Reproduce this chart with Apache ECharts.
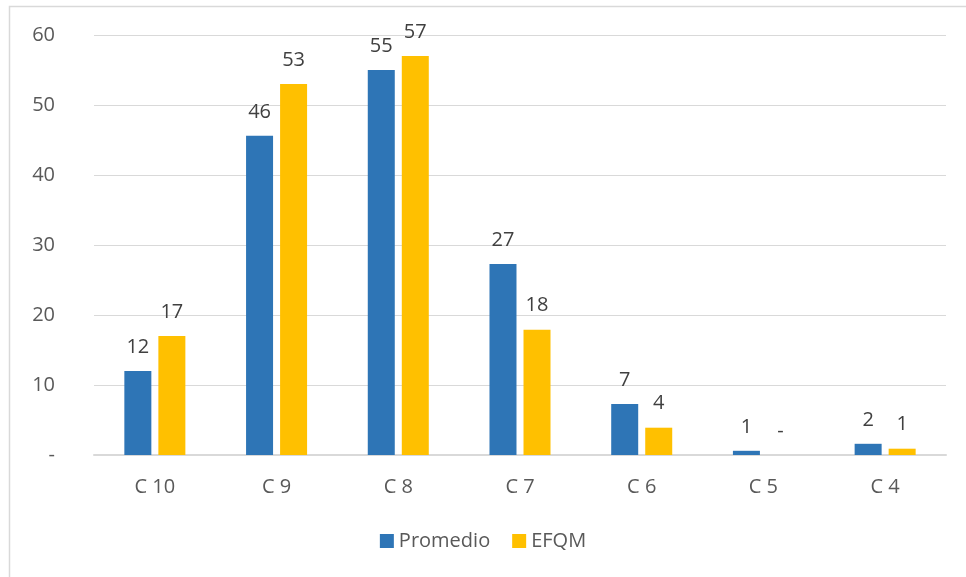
<!DOCTYPE html>
<html>
<head>
<meta charset="utf-8">
<script src="https://cdn.jsdelivr.net/npm/echarts@6/dist/echarts.min.js"></script>
<style>
  html, body { margin: 0; padding: 0; background: #fff; }
  #chart { width: 966px; height: 577px; }
</style>
</head>
<body>
<div id="chart"></div>
<script>
// Categories and series values
const categories = ['C 10', 'C 9', 'C 8', 'C 7', 'C 6', 'C 5', 'C 4'];
const promedio = [12.0, 45.6, 55.0, 27.3, 7.3, 0.6, 1.6];
const efqm = [17.0, 53.0, 57.0, 17.9, 3.9, 0, 0.9];
const yTicks = [0, 10, 20, 30, 40, 50, 60];

const FONT = '"Open Sans", "Noto Sans", sans-serif';
const TEXT = '#595959';

function fmtLabel(v) {
  const n = Math.round(v);
  return n === 0 ? '-' : String(n);
}

const chart = echarts.init(document.getElementById('chart'), null, { renderer: 'canvas' });

const barLabel = {
  show: true,
  position: 'top',
  distance: 14,
  color: '#404040',
  fontSize: 20,
  fontFamily: FONT,
  formatter: p => fmtLabel(p.value)
};

chart.setOption({
  animation: false,
  backgroundColor: '#fff',
  graphic: [{
    type: 'rect',
    shape: { x: 9.5, y: 6.5, width: 966, height: 580 },
    style: { fill: 'none', stroke: '#d9d9d9', lineWidth: 1.5 },
    silent: true
  }],
  grid: { left: 94, right: 20, top: 35, bottom: 122, containLabel: false },
  legend: {
    data: ['Promedio', 'EFQM'],
    top: 526,
    left: 'center',
    icon: 'rect',
    itemWidth: 14,
    itemHeight: 14,
    itemGap: 22,
    textStyle: { color: TEXT, fontSize: 20, fontFamily: FONT }
  },
  xAxis: {
    type: 'category',
    data: categories,
    axisTick: { show: false },
    axisLine: { lineStyle: { color: '#d9d9d9', width: 2 } },
    axisLabel: { color: TEXT, fontSize: 20, fontFamily: FONT, margin: 22 }
  },
  yAxis: {
    type: 'value',
    min: yTicks[0],
    max: yTicks[yTicks.length - 1],
    interval: 10,
    axisLine: { show: false },
    axisTick: { show: false },
    splitLine: { lineStyle: { color: '#d9d9d9', width: 1 } },
    axisLabel: {
      color: TEXT, fontSize: 20, fontFamily: FONT, margin: 39,
      formatter: v => (v === 0 ? '-' : String(v))
    }
  },
  series: [
    {
      name: 'Promedio',
      type: 'bar',
      data: promedio,
      barWidth: 27,
      barGap: '26%',
      itemStyle: { color: '#2E75B6' },
      label: barLabel
    },
    {
      name: 'EFQM',
      type: 'bar',
      data: efqm,
      barWidth: 27,
      itemStyle: { color: '#FFC000' },
      label: barLabel
    }
  ]
});
</script>
</body>
</html>
